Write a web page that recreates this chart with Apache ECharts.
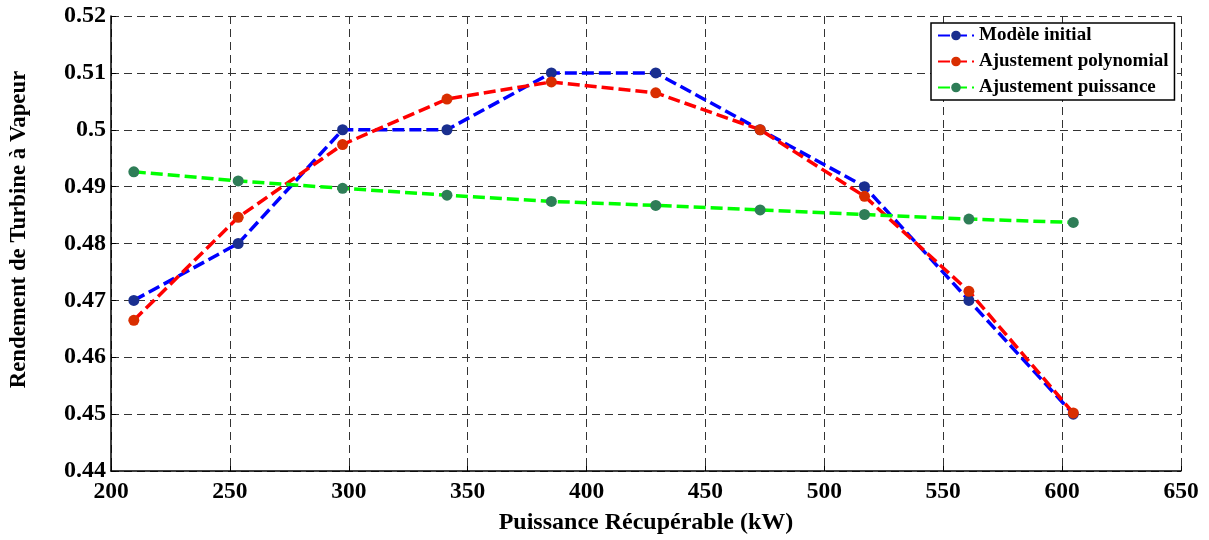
<!DOCTYPE html>
<html>
<head>
<meta charset="utf-8">
<script src="https://cdn.jsdelivr.net/npm/echarts@6/dist/echarts.min.js"></script>
<style>
  html, body { margin: 0; padding: 0; background: #fff; }
  #chart { width: 1209px; height: 540px; }
</style>
</head>
<body>
<div id="chart"></div>
<script>
// Recoverable power (kW) at each operating point
const puissance = [209.6, 253.5, 297.4, 341.3, 385.2, 429.1, 473.0, 516.9, 560.8, 604.7];

// Steam turbine efficiency: initial model and the two fitted curves
const modeleInitial = [0.470, 0.480, 0.500, 0.500, 0.510, 0.510, 0.500, 0.490, 0.470, 0.450];
const ajustPolynomial = [0.4665, 0.4846, 0.4974, 0.5054, 0.5084, 0.5065, 0.5000, 0.4883, 0.4716, 0.4502];
const ajustPuissance = [0.4926, 0.4910, 0.4897, 0.4885, 0.4874, 0.4867, 0.4859, 0.4851, 0.4843, 0.4837];

const seriesNames = ['Modèle initial', 'Ajustement polynomial', 'Ajustement puissance'];

const pairs = ys => puissance.map((x, i) => [x, ys[i]]);

const FONT = '"Liberation Serif", "Times New Roman", serif';

function makeSeries(name, ys, lineColor, markerColor) {
  return {
    name: name,
    type: 'line',
    data: pairs(ys),
    symbol: 'circle',
    symbolSize: 11,
    showSymbol: true,
    lineStyle: { color: lineColor, width: 3.5, type: [12, 5] },
    itemStyle: { color: markerColor },
    emphasis: { disabled: true },
    animation: false
  };
}

const chart = echarts.init(document.getElementById('chart'), null, { renderer: 'canvas' });

chart.setOption({
  backgroundColor: '#ffffff',
  animation: false,
  grid: { left: 111, right: 28, top: 16, bottom: 67 },
  legend: {
    orient: 'vertical',
    left: 931,
    top: 23,
    itemWidth: 36,
    itemHeight: 12,
    itemGap: 7,
    padding: [3, 6, 3, 6],
    backgroundColor: '#ffffff',
    borderColor: '#000000',
    borderWidth: 1.5,
    textStyle: { fontFamily: FONT, fontWeight: 'bold', fontSize: 19, color: '#000' },
    data: seriesNames
  },
  xAxis: {
    type: 'value',
    min: 200,
    max: 650,
    interval: 50,
    name: 'Puissance Récupérable (kW)',
    nameLocation: 'middle',
    nameGap: 40,
    nameTextStyle: { fontFamily: FONT, fontWeight: 'bold', fontSize: 24, color: '#000' },
    axisLine: { show: true, lineStyle: { color: '#000', width: 1.5 } },
    axisTick: { show: true, inside: true, length: 5, lineStyle: { color: '#000' } },
    axisLabel: { fontFamily: FONT, fontWeight: 'bold', fontSize: 23.5, color: '#000', margin: 9 },
    splitLine: { show: true, lineStyle: { color: '#333', width: 1, type: [8, 5] } }
  },
  yAxis: {
    type: 'value',
    min: 0.44,
    max: 0.52,
    interval: 0.01,
    name: 'Rendement de Turbine à Vapeur',
    nameLocation: 'middle',
    nameGap: 80,
    nameTextStyle: {
      fontFamily: FONT, fontWeight: 'bold', fontSize: 22.8, color: '#000',
      padding: [0, 0, 0, 28]
    },
    axisLine: { show: true, lineStyle: { color: '#000', width: 1.5 } },
    axisTick: { show: true, inside: true, length: 5, lineStyle: { color: '#000' } },
    axisLabel: {
      fontFamily: FONT, fontWeight: 'bold', fontSize: 24, color: '#000', margin: 5,
      formatter: v => String(+v.toFixed(2))
    },
    splitLine: { show: true, lineStyle: { color: '#333', width: 1, type: [8, 5] } }
  },
  series: [
    makeSeries(seriesNames[0], modeleInitial, '#0000ff', '#1a2f8f'),
    makeSeries(seriesNames[1], ajustPolynomial, '#ff0000', '#d92e00'),
    makeSeries(seriesNames[2], ajustPuissance, '#00ff00', '#2e7d57')
  ]
});
</script>
</body>
</html>
